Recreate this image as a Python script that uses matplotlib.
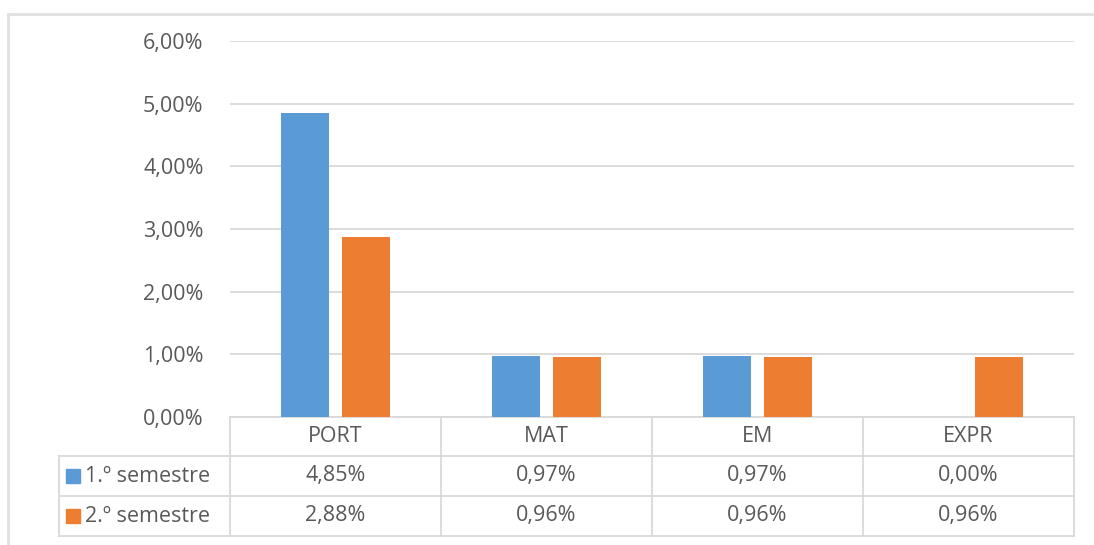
import numpy as np
import matplotlib.pyplot as plt
from matplotlib.lines import Line2D
from matplotlib.patches import Rectangle
from matplotlib.transforms import blended_transform_factory

# data
categories = ['PORT', 'MAT', 'EM', 'EXPR']
series_names = ['1.º semestre', '2.º semestre']
sem1 = [4.85, 0.97, 0.97, 0.00]
sem2 = [2.88, 0.96, 0.96, 0.96]
y_ticks = [0, 1, 2, 3, 4, 5, 6]

colors = ['#5B9BD5', '#ED7D31']
text_color = '#595959'
grid_color = '#D9D9D9'
fsize = 15.5

plt.rcParams['font.family'] = ['Open Sans', 'DejaVu Sans']

W, H = 1094, 545
fig = plt.figure(figsize=(W / 100, H / 100), dpi=100)


def fx(px):
    return px / W


def fy(py):
    return 1 - py / H


def pct(v):
    return f"{v:.2f}%".replace('.', ',')


ax = fig.add_axes([fx(230), fy(417), fx(1074) - fx(230), fy(41) - fy(417)])

x = np.arange(len(categories))
bw = 0.223
off = 0.1445
ax.bar(x - off, sem1, bw, color=colors[0], zorder=3)
ax.bar(x + off, sem2, bw, color=colors[1], zorder=3)

ax.set_xlim(-0.5, len(categories) - 0.5)
ax.set_ylim(0, 6)
ax.set_yticks(y_ticks)
ax.set_yticklabels([pct(v) for v in y_ticks])
ax.set_xticks([])
ax.tick_params(axis='y', length=0, pad=19, labelsize=fsize, labelcolor=text_color)
ax.yaxis.grid(True, color=grid_color, lw=1.3, zorder=0)
for s in ['left', 'right', 'top']:
    ax.spines[s].set_visible(False)
ax.spines['bottom'].set_color(grid_color)
ax.spines['bottom'].set_linewidth(1.3)

# data table below the plot
trans = blended_transform_factory(ax.transData, fig.transFigure)
rows = [417, 456, 496, 536]


def hline(x0, x1, py):
    fig.add_artist(Line2D([fx(x0), fx(x1)], [fy(py), fy(py)],
                          transform=fig.transFigure, color=grid_color, lw=1.3))


for py in rows[1:]:
    hline(59, 1074, py)
for b in np.arange(len(categories) + 1) - 0.5:
    fig.add_artist(Line2D([b, b], [fy(rows[0]), fy(rows[-1])],
                          transform=trans, color=grid_color, lw=1.3))
fig.add_artist(Line2D([fx(59), fx(59)], [fy(rows[1]), fy(rows[-1])],
                      transform=fig.transFigure, color=grid_color, lw=1.3))

hdr_y = fy((rows[0] + rows[1]) / 2)
for i, c in enumerate(categories):
    fig.text(i, hdr_y, c, transform=trans, ha='center', va='center',
             fontsize=fsize, color=text_color)

for r, (name, vals, col) in enumerate(zip(series_names, [sem1, sem2], colors)):
    yc = (rows[r + 1] + rows[r + 2]) / 2
    fig.add_artist(Rectangle((fx(66), fy(yc + 7)), fx(14), 14 / H,
                             transform=fig.transFigure, color=col))
    fig.text(fx(85), fy(yc), name, ha='left', va='center',
             fontsize=fsize, color=text_color)
    for i, v in enumerate(vals):
        fig.text(i, fy(yc), pct(v), transform=trans, ha='center', va='center',
                 fontsize=fsize, color=text_color)

# outer chart frame
fig.add_artist(Line2D([fx(8), fx(8)], [fy(14), 0], transform=fig.transFigure,
                      color='#E0E0E0', lw=2))
fig.add_artist(Line2D([fx(8), 1], [fy(14), fy(14)], transform=fig.transFigure,
                      color='#E0E0E0', lw=2))

fig.savefig('out.png', dpi=100)
